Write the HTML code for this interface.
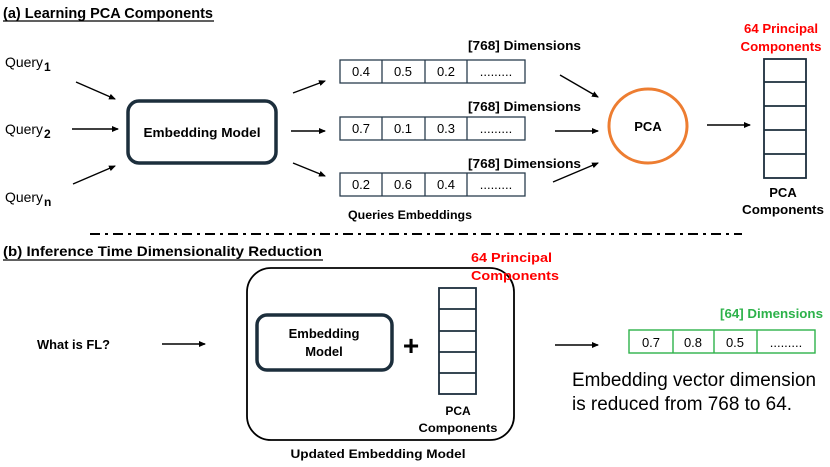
<!DOCTYPE html>
<html><head><meta charset="utf-8"><style>
html,body{margin:0;padding:0;background:#fff;}
svg{display:block;}
text{font-family:"Liberation Sans",sans-serif;}
.b{font-weight:bold;}
</style></head><body>
<svg width="830" height="467" viewBox="0 0 830 467" xmlns="http://www.w3.org/2000/svg">
<defs>
<marker id="ah" markerWidth="8" markerHeight="8" refX="6" refY="3" orient="auto" markerUnits="userSpaceOnUse">
<path d="M0,0 L7,3 L0,6 z" fill="#000"/></marker>
</defs>
<g stroke="#000" stroke-width="1.4" marker-end="url(#ah)">
<line x1="76" y1="82" x2="115" y2="99"/>
<line x1="72" y1="129" x2="118" y2="129"/>
<line x1="73" y1="184" x2="115" y2="166"/>
<line x1="293" y1="93" x2="325" y2="81"/>
<line x1="291" y1="131" x2="325" y2="131"/>
<line x1="293" y1="163" x2="325" y2="176"/>
<line x1="560" y1="75" x2="598" y2="97"/>
<line x1="555" y1="131" x2="598" y2="131"/>
<line x1="553" y1="182" x2="598" y2="163"/>
<line x1="707" y1="125" x2="750" y2="125"/>
<line x1="162" y1="344" x2="205" y2="344"/>
<line x1="555" y1="345" x2="598" y2="345"/>
</g>
<text x="3" y="18" class="b" font-size="15" textLength="210" lengthAdjust="spacingAndGlyphs">(a) Learning PCA Components</text>
<line x1="3" y1="21" x2="214" y2="21" stroke="#000" stroke-width="1.2"/>
<text x="5" y="67" font-size="14" textLength="38" lengthAdjust="spacingAndGlyphs">Query</text><text x="44" y="71" font-size="12" class="b">1</text>
<text x="5" y="134" font-size="14" textLength="38" lengthAdjust="spacingAndGlyphs">Query</text><text x="44" y="138" font-size="12" class="b">2</text>
<text x="5" y="202" font-size="14" textLength="38" lengthAdjust="spacingAndGlyphs">Query</text><text x="44" y="206" font-size="12" class="b">n</text>
<rect x="128" y="101" width="148" height="62" rx="11" fill="#fff" stroke="#1c2e3c" stroke-width="3.5"/>
<text x="202" y="137" class="b" font-size="13" text-anchor="middle" textLength="117" lengthAdjust="spacingAndGlyphs">Embedding Model</text>
<g stroke="#2a3d4d" stroke-width="1.3" fill="none">
<rect x="340" y="60" width="185" height="23"/><line x1="382" y1="60" x2="382" y2="83"/><line x1="425" y1="60" x2="425" y2="83"/><line x1="467" y1="60" x2="467" y2="83"/>
<rect x="340" y="117" width="185" height="23"/><line x1="382" y1="117" x2="382" y2="140"/><line x1="425" y1="117" x2="425" y2="140"/><line x1="467" y1="117" x2="467" y2="140"/>
<rect x="340" y="173" width="185" height="23"/><line x1="382" y1="173" x2="382" y2="196"/><line x1="425" y1="173" x2="425" y2="196"/><line x1="467" y1="173" x2="467" y2="196"/>
</g>
<g font-size="13" text-anchor="middle">
<text x="361" y="76">0.4</text><text x="403" y="76">0.5</text><text x="446" y="76">0.2</text><text x="496" y="76">.........</text>
<text x="361" y="133">0.7</text><text x="403" y="133">0.1</text><text x="446" y="133">0.3</text><text x="496" y="133">.........</text>
<text x="361" y="189">0.2</text><text x="403" y="189">0.6</text><text x="446" y="189">0.4</text><text x="496" y="189">.........</text>
</g>
<g class="b" font-size="13">
<text x="468" y="50" textLength="113" lengthAdjust="spacingAndGlyphs">[768] Dimensions</text>
<text x="468" y="111" textLength="113" lengthAdjust="spacingAndGlyphs">[768] Dimensions</text>
<text x="468" y="168" textLength="113" lengthAdjust="spacingAndGlyphs">[768] Dimensions</text>
<text x="410" y="219" text-anchor="middle" font-size="12" textLength="124" lengthAdjust="spacingAndGlyphs">Queries Embeddings</text>
</g>
<ellipse cx="648" cy="126" rx="39" ry="37" fill="#fff" stroke="#ed7d31" stroke-width="3"/>
<text x="648" y="131" class="b" font-size="13" text-anchor="middle">PCA</text>
<g stroke="#1c2e3c" stroke-width="1.8" fill="none">
<rect x="764" y="59" width="42" height="119"/>
<line x1="764" y1="82" x2="806" y2="82"/><line x1="764" y1="106" x2="806" y2="106"/><line x1="764" y1="130" x2="806" y2="130"/><line x1="764" y1="154" x2="806" y2="154"/>
</g>
<text x="781" y="33" class="b" font-size="13" fill="#f00" text-anchor="middle" textLength="74" lengthAdjust="spacingAndGlyphs">64 Principal</text>
<text x="781" y="51" class="b" font-size="13" fill="#f00" text-anchor="middle" textLength="81" lengthAdjust="spacingAndGlyphs">Components</text>
<text x="783" y="197" class="b" font-size="13" text-anchor="middle">PCA</text>
<text x="783" y="214" class="b" font-size="13" text-anchor="middle" textLength="82" lengthAdjust="spacingAndGlyphs">Components</text>
<line x1="90" y1="234" x2="742" y2="234" stroke="#000" stroke-width="2" stroke-dasharray="10,5,3,5"/>
<text x="3" y="256" class="b" font-size="14" textLength="319" lengthAdjust="spacingAndGlyphs">(b) Inference Time Dimensionality Reduction</text>
<line x1="3" y1="260" x2="323" y2="260" stroke="#000" stroke-width="1.2"/>
<text x="37" y="349" class="b" font-size="13" textLength="73" lengthAdjust="spacingAndGlyphs">What is FL?</text>
<rect x="247" y="268" width="267" height="172" rx="24" fill="none" stroke="#000" stroke-width="1.8"/>
<rect x="257" y="315" width="135" height="55" rx="10" fill="#fff" stroke="#1c2e3c" stroke-width="3.5"/>
<text x="324" y="338" class="b" font-size="13" text-anchor="middle">Embedding</text>
<text x="324" y="356" class="b" font-size="13" text-anchor="middle">Model</text>
<text x="411" y="355" font-size="28" text-anchor="middle" class="b">+</text>
<g stroke="#1c2e3c" stroke-width="1.8" fill="none">
<rect x="439" y="288" width="37" height="106"/>
<line x1="439" y1="309" x2="476" y2="309"/><line x1="439" y1="331" x2="476" y2="331"/><line x1="439" y1="352" x2="476" y2="352"/><line x1="439" y1="373" x2="476" y2="373"/>
</g>
<text x="471" y="262" class="b" font-size="13" fill="#f00" textLength="81" lengthAdjust="spacingAndGlyphs">64 Principal</text>
<text x="471" y="280" class="b" font-size="13" fill="#f00" textLength="88" lengthAdjust="spacingAndGlyphs">Components</text>
<text x="458" y="415" class="b" font-size="12" text-anchor="middle">PCA</text>
<text x="458" y="432" class="b" font-size="12" text-anchor="middle" textLength="79" lengthAdjust="spacingAndGlyphs">Components</text>
<text x="378" y="458" class="b" font-size="12" text-anchor="middle" textLength="175" lengthAdjust="spacingAndGlyphs">Updated Embedding Model</text>
<g stroke="#2db24a" stroke-width="1.4" fill="none">
<rect x="629" y="330" width="186" height="23"/><line x1="673" y1="330" x2="673" y2="353"/><line x1="714" y1="330" x2="714" y2="353"/><line x1="757" y1="330" x2="757" y2="353"/>
</g>
<g font-size="13" text-anchor="middle">
<text x="651" y="347">0.7</text><text x="693" y="347">0.8</text><text x="735" y="347">0.5</text><text x="786" y="347">.........</text>
</g>
<text x="823" y="318" class="b" font-size="13" fill="#2db24a" text-anchor="end" textLength="103" lengthAdjust="spacingAndGlyphs">[64] Dimensions</text>
<text x="572" y="386" font-size="19" textLength="244" lengthAdjust="spacingAndGlyphs">Embedding vector dimension</text>
<text x="572" y="410" font-size="19" textLength="220" lengthAdjust="spacingAndGlyphs">is reduced from 768 to 64.</text>
</svg>
</body></html>
